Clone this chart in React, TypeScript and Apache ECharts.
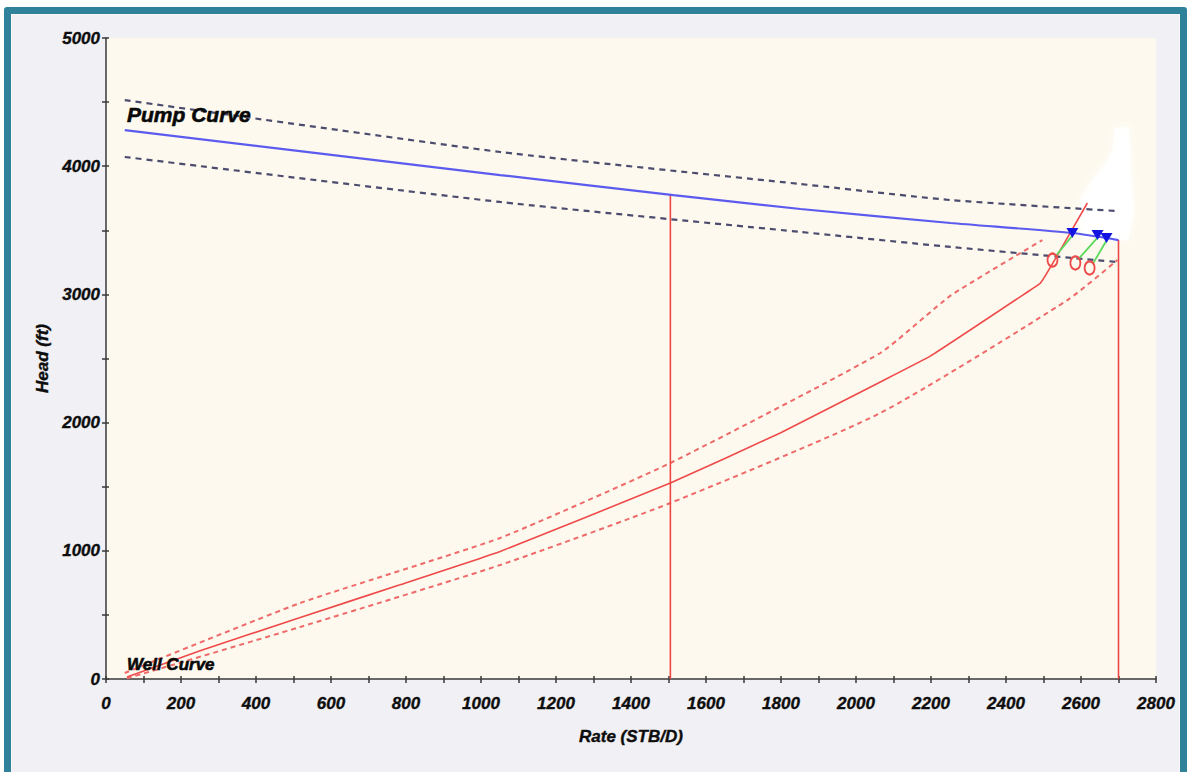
import React, { useEffect, useRef } from "react";
import * as echarts from "echarts";

// Pump performance curve (head vs. rate) with its tolerance band
const pumpRate = [50, 1051, 1513, 1852, 2252, 2577, 2700];
const pumpHead = [4282, 3931, 3775, 3666, 3557, 3479, 3424];
const pumpUpperRate = [50, 1051, 1852, 2252, 2697];
const pumpUpperHead = [4516, 4111, 3861, 3736, 3650];
const pumpLowerRate = [50, 1051, 1852, 2252, 2697];
const pumpLowerHead = [4072, 3721, 3487, 3370, 3253];

// Well (system) curve with its tolerance band
const wellRate = [56, 251, 518, 784, 1051, 1505, 1798, 2065, 2199, 2465, 2492, 2530, 2617];
const wellHead = [16, 220, 480, 735, 995, 1529, 1919, 2317, 2520, 3034, 3089, 3270, 3713];
const wellUpperRate = [50, 518, 1051, 1505, 2065, 2252, 2497];
const wellUpperHead = [47, 593, 1100, 1685, 2543, 2990, 3424];
const wellLowerRate = [56, 518, 1051, 1505, 2065, 2564, 2697];
const wellLowerHead = [5, 406, 889, 1373, 2075, 2956, 3268];

// Vertical rate markers (rate, head at the pump curve)
const markerRate = [1505, 2700];
const markerHead = [3775, 3424];

// Operating points: well side (circles) and pump side (triangles)
const wellPointRate = [2524, 2585, 2623];
const wellPointHead = [3268, 3245, 3206];
const pumpPointRate = [2577, 2644, 2668];
const pumpPointHead = [3479, 3463, 3440];

// Curve captions
const captionText = ["Pump Curve", "Well Curve"];
const captionRate = [56, 56];
const captionHead = [4400, 110];
const captionSize = [21, 17];

const FONT = "'Liberation Sans', Arial, sans-serif";

const zip = (xs: number[], ys: number[]) => xs.map((x, i) => [x, ys[i]]);

const tickLabel = {
  color: "#0d0d0d",
  fontFamily: FONT,
  fontStyle: "italic" as const,
  fontWeight: "bold" as const,
  fontSize: 17,
  textBorderColor: "#1a1a1a",
  textBorderWidth: 0.4,
};

function buildOption() {
  const axisLine = { show: true, lineStyle: { color: "#3a3a3a", width: 1.5 } };
  const tickStyle = { color: "#3a3a3a", width: 1.5 };
  const plain = (v: number) => String(v);

  const xMain = {
    type: "value",
    min: 0,
    max: 2800,
    interval: 200,
    position: "bottom",
    axisLine,
    axisTick: { show: true, length: 4, lineStyle: tickStyle },
    minorTick: { show: true, splitNumber: 2, length: 4, lineStyle: tickStyle },
    splitLine: { show: false },
    axisLabel: { ...tickLabel, margin: 16, formatter: plain },
    name: "Rate (STB/D)",
    nameLocation: "middle",
    nameGap: 49,
    nameTextStyle: { ...tickLabel, fontSize: 17 },
  };
  const xInner = {
    type: "value",
    min: 0,
    max: 2800,
    interval: 200,
    position: "bottom",
    axisLine: { show: false },
    axisTick: { show: true, inside: true, length: 3, lineStyle: tickStyle },
    minorTick: { show: true, splitNumber: 2, length: 3, lineStyle: tickStyle },
    splitLine: { show: false },
    axisLabel: { show: false },
  };
  const yMain = {
    type: "value",
    min: 0,
    max: 5000,
    interval: 1000,
    position: "left",
    axisLine,
    axisTick: { show: true, length: 4, lineStyle: tickStyle },
    minorTick: { show: true, splitNumber: 2, length: 4, lineStyle: tickStyle },
    splitLine: { show: false },
    axisLabel: { ...tickLabel, margin: 6, formatter: plain },
    name: "Head (ft)",
    nameLocation: "middle",
    nameGap: 55,
    nameTextStyle: { ...tickLabel, fontSize: 17 },
  };
  const yInner = {
    type: "value",
    min: 0,
    max: 5000,
    interval: 1000,
    position: "left",
    axisLine: { show: false },
    axisTick: { show: true, inside: true, length: 3, lineStyle: tickStyle },
    minorTick: { show: true, splitNumber: 2, length: 3, lineStyle: tickStyle },
    splitLine: { show: false },
    axisLabel: { show: false },
  };

  const line = (
    data: number[][],
    color: string,
    width: number,
    dash?: number[],
    z = 3,
    smooth = 0
  ) => ({
    type: "line",
    data,
    showSymbol: false,
    symbol: "none",
    silent: true,
    smooth,
    z,
    lineStyle: { color, width, type: dash || "solid", cap: "butt" },
  });

  const series: any[] = [
    line(zip(pumpUpperRate, pumpUpperHead), "#4c4c6e", 2.2, [6, 5], 3, 0.2),
    line(zip(pumpLowerRate, pumpLowerHead), "#4c4c6e", 2.2, [6, 5], 3, 0.2),
    line(zip(wellUpperRate, wellUpperHead), "#ef6a6a", 2, [5, 4], 3, 0.15),
    line(zip(wellLowerRate, wellLowerHead), "#ef6a6a", 2, [5, 4], 3, 0.2),
    line(zip(wellRate, wellHead), "#ef4a4a", 1.6, undefined, 3, 0.1),
    line(zip(pumpRate, pumpHead), "#5b5bef", 2.2, undefined, 4, 0.2),
  ];

  markerRate.forEach((r, i) => {
    series.push(line([[r, 0], [r, markerHead[i]]], "#ee4545", 1.6));
  });

  wellPointRate.forEach((r, i) => {
    series.push(
      line(
        [
          [r + 8, wellPointHead[i] + 30],
          [pumpPointRate[i], pumpPointHead[i] - 20],
        ],
        "#5ad85a",
        1.8,
        undefined,
        5
      )
    );
  });

  series.push({
    type: "scatter",
    data: zip(wellPointRate, wellPointHead),
    symbol: "circle",
    symbolSize: [10, 13],
    silent: true,
    z: 6,
    itemStyle: { color: "rgba(0,0,0,0)", borderColor: "#ec4c4c", borderWidth: 2, opacity: 1 },
  });
  series.push({
    type: "scatter",
    data: zip(pumpPointRate, pumpPointHead),
    symbol: "triangle",
    symbolRotate: 180,
    symbolSize: [12, 10],
    silent: true,
    z: 6,
    itemStyle: { color: "#1414e0", opacity: 1 },
  });

  series.push({
    type: "scatter",
    data: captionText.map((t, i) => ({
      name: t,
      value: [captionRate[i], captionHead[i]],
      label: { fontSize: captionSize[i] },
    })),
    symbolSize: 0,
    silent: true,
    z: 7,
    itemStyle: { opacity: 1 },
    label: {
      show: true,
      position: "right",
      distance: 0,
      opacity: 1,
      formatter: (p: any) => p.name,
      color: "#080808",
      fontFamily: FONT,
      fontStyle: "italic",
      fontWeight: "bold",
      textBorderColor: "#111111",
      textBorderWidth: 0.6,
    },
  });

  return {
    animation: false,
    backgroundColor: "transparent",
    grid: {
      show: true,
      left: 106,
      right: 31,
      top: 38,
      bottom: 93,
      containLabel: false,
      outerBoundsMode: "none",
      backgroundColor: "#fdf9ee",
      borderWidth: 0,
    },
    xAxis: [xMain, xInner],
    yAxis: [yMain, yInner],
    graphic: [
      {
        type: "polygon",
        z: 1,
        silent: true,
        shape: {
          points: [
            [1115, 128],
            [1129, 127],
            [1131, 170],
            [1134, 212],
            [1128, 240],
            [1084, 238],
            [1077, 216],
            [1082, 196],
            [1094, 178],
            [1106, 163],
            [1113, 150],
          ],
        },
        style: { fill: "#ffffff", opacity: 0.9, shadowBlur: 10, shadowColor: "#ffffff" },
      },
    ],
    series,
  };
}

export default function App() {
  const ref = useRef<HTMLDivElement>(null);

  useEffect(() => {
    if (!ref.current) return;
    const chart = echarts.init(ref.current, undefined, { renderer: "svg" });
    chart.setOption(buildOption() as any);
    return () => chart.dispose();
  }, []);

  return (
    <div
      style={{
        position: "fixed",
        left: 0,
        top: 0,
        width: 1187,
        height: 772,
        background: "#ffffff",
        overflow: "hidden",
      }}
    >
      <div
        style={{
          position: "absolute",
          left: 4,
          top: 7,
          width: 1169,
          height: 790,
          border: "7px solid #2f8299",
          borderRadius: 3,
          background: "#f1f0f4",
          boxShadow: "inset 0 0 0 1px #f9f9fb",
        }}
      />
      <div
        ref={ref}
        style={{ position: "absolute", left: 0, top: 0, width: 1187, height: 772 }}
      />
    </div>
  );
}
